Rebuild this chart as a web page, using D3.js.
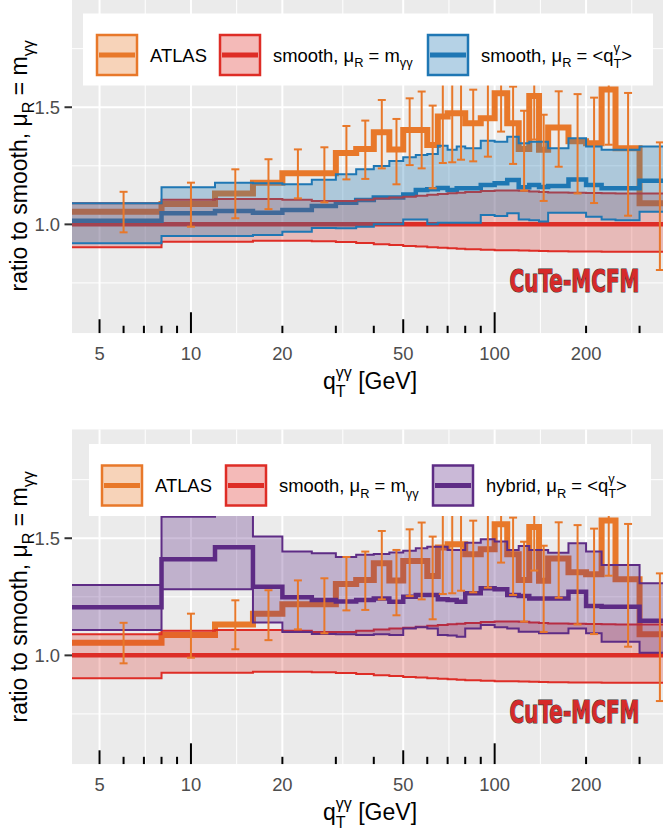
<!DOCTYPE html>
<html>
<head>
<meta charset="utf-8">
<script src="https://cdn.jsdelivr.net/npm/d3@7"></script>
<style>
  body { margin: 0; background: #fff; }
  svg { display: block; font-family: "Liberation Sans", Arial, sans-serif; }
</style>
</head>
<body>
<svg id="chart" width="663" height="832"></svg>
<script>
// q_T bins (GeV), one value per bin
var binEdges = [4, 8, 12, 16, 20, 25, 30, 35, 40, 45, 50, 55, 60, 65, 70, 75, 80, 90,
    100, 110, 120, 130, 140, 150, 175, 200, 225, 250, 300, 400];

// ATLAS / smooth(mu_R = m_yy)
var atlasRatio = [1.054, 1.087, 1.132, 1.178, 1.218, 1.218, 1.305, 1.322, 1.393, 1.320,
    1.403, 1.403, 1.339, 1.460, 1.474, 1.474, 1.432, 1.453, 1.560, 1.432, 1.322, 1.548,
    1.318, 1.413, 1.355, 1.346, 1.576, 1.325, 1.090];
var atlasErrLo = [0.966, 0.990, 1.026, 1.065, 1.111, 1.094, 1.192, 1.194, 1.239, 1.171,
    1.253, 1.239, 1.154, 1.262, 1.265, 1.276, 1.269, 1.289, 1.396, 1.258, 1.144, 1.362,
    1.100, 1.246, 1.132, 1.091, 1.340, 1.037, 0.805];
var atlasErrHi = [1.139, 1.178, 1.235, 1.278, 1.320, 1.329, 1.420, 1.443, 1.531, 1.450,
    1.538, 1.567, 1.507, 1.658, 1.683, 1.672, 1.575, 1.600, 1.724, 1.588, 1.485, 1.734,
    1.468, 1.568, 1.556, 1.541, 1.810, 1.561, 1.350];

// smooth, mu_R = m_yy (reference, band only)
var smoothMid = [1, 1, 1, 1, 1, 1, 1, 1, 1, 1, 1, 1, 1, 1, 1, 1, 1, 1, 1, 1, 1, 1, 1, 1, 1,
    1, 1, 1, 1];
var smoothLo = [0.902, 0.926, 0.926, 0.930, 0.930, 0.928, 0.925, 0.920, 0.915, 0.912,
    0.908, 0.905, 0.902, 0.900, 0.898, 0.896, 0.894, 0.892, 0.890, 0.889, 0.888, 0.887,
    0.886, 0.885, 0.884, 0.884, 0.883, 0.883, 0.883];
var smoothHi = [1.090, 1.105, 1.108, 1.108, 1.105, 1.100, 1.100, 1.105, 1.110, 1.115,
    1.118, 1.122, 1.126, 1.130, 1.133, 1.135, 1.138, 1.142, 1.145, 1.145, 1.143, 1.140,
    1.138, 1.136, 1.135, 1.134, 1.133, 1.132, 1.132];

// smooth, mu_R = <q_T>
var qtMid = [1.015, 1.047, 1.057, 1.050, 1.061, 1.078, 1.092, 1.104, 1.115, 1.115, 1.128,
    1.147, 1.150, 1.155, 1.147, 1.154, 1.154, 1.168, 1.175, 1.189, 1.158, 1.168, 1.160,
    1.164, 1.192, 1.168, 1.154, 1.154, 1.186];
var qtLo = [0.919, 0.950, 0.950, 0.955, 0.968, 0.985, 0.983, 0.990, 1.000, 1.000, 1.021,
    1.021, 1.001, 1.007, 1.007, 1.007, 1.007, 1.040, 1.036, 1.047, 1.021, 1.018, 1.012,
    1.050, 1.050, 1.032, 1.021, 1.018, 1.054];
var qtHi = [1.090, 1.158, 1.178, 1.175, 1.171, 1.190, 1.214, 1.235, 1.249, 1.270, 1.286,
    1.296, 1.300, 1.336, 1.318, 1.332, 1.325, 1.357, 1.353, 1.374, 1.346, 1.353, 1.353,
    1.325, 1.368, 1.332, 1.318, 1.318, 1.332];

// hybrid, mu_R = <q_T>
var hybridMid = [1.205, 1.410, 1.461, 1.293, 1.248, 1.236, 1.230, 1.236, 1.243, 1.229,
    1.250, 1.258, 1.258, 1.240, 1.236, 1.229, 1.265, 1.286, 1.282, 1.258, 1.253, 1.243,
    1.243, 1.243, 1.272, 1.211, 1.208, 1.208, 1.148];
var hybridLo = [1.108, 1.282, 1.282, 1.140, 1.100, 1.091, 1.090, 1.087, 1.090, 1.087,
    1.115, 1.120, 1.115, 1.087, 1.085, 1.080, 1.115, 1.130, 1.120, 1.115, 1.101, 1.101,
    1.094, 1.094, 1.115, 1.094, 1.058, 1.058, 1.011];
var hybridHi = [1.300, 1.592, 1.700, 1.507, 1.443, 1.436, 1.420, 1.430, 1.433, 1.439,
    1.447, 1.457, 1.464, 1.464, 1.450, 1.450, 1.481, 1.496, 1.486, 1.450, 1.467, 1.450,
    1.450, 1.438, 1.479, 1.443, 1.386, 1.386, 1.308];

var xBreaks = [5, 10, 20, 50, 100, 200, 400];
var xLabels = [5, 10, 20, 50, 100, 200];
var yBreaks = [0.5, 1.0, 1.5, 2.0];

var colors = { atlas: '#E8782A', smooth: '#DE2D26', qt: '#1F77B4', hybrid: '#5E2C85' };
var baseSize = 23;

var svg = d3.select('#chart');

var panelLeft = 72, panelRight = 668, panelHeight = 335;
var x = d3.scaleLog().domain([4, 400]).range([70.1, 677.5]);

function binRows(mid, lo, hi) {
    var rows = mid.map(function(v, i) {
        return { x: binEdges[i], mid: v, lo: lo ? lo[i] : v, hi: hi ? hi[i] : v };
    });
    var last = rows[rows.length - 1];
    rows.push({ x: binEdges[mid.length], mid: last.mid, lo: last.lo, hi: last.hi });
    return rows;
}

// text with sub/superscripts, parts: {t, sub} or stacked {sup, sub}
function richText(txt, parts, size) {
    var shift = 0, extra = 0;
    parts.forEach(function(p) {
        if (p.sup !== undefined) {
            var s = txt.append('tspan').attr('font-size', size * 0.7)
                .attr('dx', extra).attr('dy', -0.5 * size - shift).text(p.sup);
            var wSup = s.node().getComputedTextLength();
            var b = txt.append('tspan').attr('font-size', size * 0.7)
                .attr('dx', -wSup).attr('dy', 0.34 * size + 0.5 * size).text(p.sub);
            shift = 0.34 * size;
            extra = Math.max(0, wSup - b.node().getComputedTextLength());
        } else {
            var d = p.sub ? 0.3 * size : 0;
            txt.append('tspan').attr('font-size', p.sub ? size * 0.7 : size)
                .attr('dx', extra).attr('dy', d - shift).text(p.t);
            shift = d;
            extra = 0;
        }
    });
}

function drawPanel(cfg, idx) {
    var top = cfg.bottom - panelHeight;
    var y = d3.scaleLinear().domain([0.535, 1.965]).range([cfg.bottom, top]);

    var clipId = 'clip' + idx;
    svg.append('clipPath').attr('id', clipId)
        .append('rect').attr('x', panelLeft).attr('y', top)
        .attr('width', panelRight - panelLeft).attr('height', panelHeight);

    var g = svg.append('g').attr('clip-path', 'url(#' + clipId + ')');

    g.append('rect').attr('x', panelLeft).attr('y', top)
        .attr('width', panelRight - panelLeft).attr('height', panelHeight)
        .attr('fill', '#EBEBEB');

    // minor grid at geometric / arithmetic midpoints
    var xMinor = d3.pairs(xBreaks).map(function(p) { return Math.sqrt(p[0] * p[1]); });
    var yMinor = d3.pairs(yBreaks).map(function(p) { return (p[0] + p[1]) / 2; });

    g.selectAll('.vminor').data(xMinor).enter().append('line')
        .attr('x1', function(d) { return x(d); }).attr('x2', function(d) { return x(d); })
        .attr('y1', top).attr('y2', cfg.bottom)
        .attr('stroke', '#fff').attr('stroke-width', 1);
    g.selectAll('.hminor').data(yMinor).enter().append('line')
        .attr('x1', panelLeft).attr('x2', panelRight)
        .attr('y1', function(d) { return y(d); }).attr('y2', function(d) { return y(d); })
        .attr('stroke', '#fff').attr('stroke-width', 1);
    g.selectAll('.vmajor').data(xBreaks).enter().append('line')
        .attr('x1', function(d) { return x(d); }).attr('x2', function(d) { return x(d); })
        .attr('y1', top).attr('y2', cfg.bottom)
        .attr('stroke', '#fff').attr('stroke-width', 2);
    g.selectAll('.hmajor').data(yBreaks).enter().append('line')
        .attr('x1', panelLeft).attr('x2', panelRight)
        .attr('y1', function(d) { return y(d); }).attr('y2', function(d) { return y(d); })
        .attr('stroke', '#fff').attr('stroke-width', 2);

    var stepLine = function(key) {
        return d3.line().curve(d3.curveStepAfter)
            .x(function(d) { return x(d.x); })
            .y(function(d) { return y(d[key]); });
    };
    var band = d3.area().curve(d3.curveStepAfter)
        .x(function(d) { return x(d.x); })
        .y0(function(d) { return y(d.lo); })
        .y1(function(d) { return y(d.hi); });

    var atlasRows = binRows(atlasRatio);
    var smoothRows = binRows(smoothMid, smoothLo, smoothHi);
    var modelRows = binRows(cfg.model.mid, cfg.model.lo, cfg.model.hi);

    // central lines first, bands are laid over them
    g.append('path').datum(atlasRows).attr('d', stepLine('mid'))
        .attr('fill', 'none').attr('stroke', colors.atlas).attr('stroke-width', 6);
    g.append('path').datum(smoothRows).attr('d', stepLine('mid'))
        .attr('fill', 'none').attr('stroke', colors.smooth).attr('stroke-width', 4.5);
    g.append('path').datum(modelRows).attr('d', stepLine('mid'))
        .attr('fill', 'none').attr('stroke', cfg.model.color).attr('stroke-width', 4.5);

    [[smoothRows, colors.smooth, 0.26], [modelRows, cfg.model.color, 0.3]].forEach(function(s) {
        g.append('path').datum(s[0]).attr('d', band)
            .attr('fill', s[1]).attr('fill-opacity', s[2]);
        g.append('path').datum(s[0]).attr('d', stepLine('lo'))
            .attr('fill', 'none').attr('stroke', s[1]).attr('stroke-width', 2);
        g.append('path').datum(s[0]).attr('d', stepLine('hi'))
            .attr('fill', 'none').attr('stroke', s[1]).attr('stroke-width', 2);
    });

    // ATLAS error bars at bin centres
    var errs = atlasRatio.map(function(v, i) {
        return { c: (binEdges[i] + binEdges[i + 1]) / 2, lo: atlasErrLo[i], hi: atlasErrHi[i] };
    });
    var eb = g.selectAll('.err').data(errs).enter().append('g')
        .attr('stroke', colors.atlas).attr('stroke-width', 2);
    eb.append('line')
        .attr('x1', function(d) { return x(d.c); }).attr('x2', function(d) { return x(d.c); })
        .attr('y1', function(d) { return y(d.lo); }).attr('y2', function(d) { return y(d.hi); });
    eb.append('line')
        .attr('x1', function(d) { return x(d.c) - 4; }).attr('x2', function(d) { return x(d.c) + 4; })
        .attr('y1', function(d) { return y(d.lo); }).attr('y2', function(d) { return y(d.lo); });
    eb.append('line')
        .attr('x1', function(d) { return x(d.c) - 4; }).attr('x2', function(d) { return x(d.c) + 4; })
        .attr('y1', function(d) { return y(d.hi); }).attr('y2', function(d) { return y(d.hi); });

    // log ticks along the bottom
    var logTicks = [];
    [1, 10, 100].forEach(function(dec) {
        for (var k = 1; k <= 9; k++) logTicks.push({ v: k * dec, k: k });
    });
    g.selectAll('.logtick').data(logTicks).enter().append('line')
        .attr('x1', function(d) { return x(d.v); }).attr('x2', function(d) { return x(d.v); })
        .attr('y1', cfg.bottom)
        .attr('y2', function(d) { return cfg.bottom - (d.k === 1 ? 21 : d.k === 5 ? 14 : 7.5); })
        .attr('stroke', '#000').attr('stroke-width', 2);

    // logo: drawn at natural width, then squeezed to 130px
    var logo = svg.append('text').attr('x', 0).attr('y', 0)
        .attr('font-family', '"Liberation Sans Narrow", "DejaVu Sans Condensed", sans-serif')
        .attr('font-weight', 'bold').attr('font-size', 32)
        .attr('fill', '#D62A2A').attr('stroke', '#3a3a3a').attr('stroke-width', 1.2)
        .attr('paint-order', 'stroke')
        .text('CuTe-MCFM');
    var logoW = logo.node().getComputedTextLength();
    logo.attr('transform', 'translate(' + x(112) + ',' + y(0.712) + ') scale(' +
        (130 / logoW) + ',1)');

    // y axis
    var yShown = yBreaks.filter(function(d) { return y(d) > top && y(d) < cfg.bottom; });
    svg.selectAll('.ytick' + idx).data(yShown).enter().append('line')
        .attr('x1', panelLeft - 7.5).attr('x2', panelLeft)
        .attr('y1', function(d) { return y(d); }).attr('y2', function(d) { return y(d); })
        .attr('stroke', '#333').attr('stroke-width', 2);
    svg.selectAll('.ylab' + idx).data(yShown).enter().append('text')
        .attr('x', 60).attr('y', function(d) { return y(d); }).attr('dy', '0.36em')
        .attr('text-anchor', 'end').attr('font-size', baseSize * 0.8).attr('fill', '#4D4D4D')
        .text(function(d) { return d3.format('.1f')(d); });

    // x axis labels
    svg.selectAll('.xlab' + idx).data(xLabels).enter().append('text')
        .attr('x', function(d) { return x(d); }).attr('y', cfg.bottom + 27)
        .attr('text-anchor', 'middle').attr('font-size', baseSize * 0.8).attr('fill', '#4D4D4D')
        .text(function(d) { return d; });

    var xt = svg.append('text').attr('x', (panelLeft + panelRight) / 2).attr('y', cfg.bottom + 56)
        .attr('text-anchor', 'middle').attr('font-size', baseSize).attr('fill', '#000');
    richText(xt, [{ t: 'q' }, { sup: 'γγ', sub: 'T' }, { t: ' [GeV]' }], baseSize);

    var yt = svg.append('text')
        .attr('transform', 'translate(27,' + (top + cfg.bottom) / 2 + ') rotate(-90)')
        .attr('text-anchor', 'middle').attr('font-size', baseSize).attr('fill', '#000');
    richText(yt, [{ t: 'ratio to smooth, μ' }, { t: 'R', sub: true }, { t: ' = m' },
        { t: 'γγ', sub: true }], baseSize);

    // legend
    var lg = svg.append('g');
    var box = cfg.legend;
    lg.append('rect').attr('x', box.x0).attr('y', box.y0)
        .attr('width', box.x1 - box.x0).attr('height', 72).attr('fill', '#fff');
    var items = [
        { label: [{ t: 'ATLAS' }], color: colors.atlas },
        { label: [{ t: 'smooth, μ' }, { t: 'R', sub: true }, { t: ' = m' }, { t: 'γγ', sub: true }],
            color: colors.smooth },
        { label: [{ t: cfg.model.name + ', μ' }, { t: 'R', sub: true }, { t: ' = <q' },
            { sup: 'γ', sub: 'T' }, { t: '>' }], color: cfg.model.color }
    ];
    items.forEach(function(it, i) {
        var kx = box.keys[i], ky = box.y0 + 21.5;
        lg.append('rect').attr('x', kx).attr('y', ky).attr('width', 40).attr('height', 40)
            .attr('fill', it.color).attr('fill-opacity', 0.33)
            .attr('stroke', it.color).attr('stroke-width', 2.5);
        lg.append('line').attr('x1', kx + 2).attr('x2', kx + 38)
            .attr('y1', ky + 20).attr('y2', ky + 20)
            .attr('stroke', it.color).attr('stroke-width', 5);
        var t = lg.append('text').attr('x', kx + 53).attr('y', box.y0 + 48)
            .attr('font-size', baseSize * 0.8).attr('fill', '#000');
        richText(t, it.label, baseSize * 0.8);
    });
}

drawPanel({
    bottom: 333.3,
    model: { name: 'smooth', mid: qtMid, lo: qtLo, hi: qtHi, color: colors.qt },
    legend: { x0: 83, x1: 653, y0: 13.5, keys: [97, 220, 428] }
}, 0);

drawPanel({
    bottom: 764.3,
    model: { name: 'hybrid', mid: hybridMid, lo: hybridLo, hi: hybridHi, color: colors.hybrid },
    legend: { x0: 89, x1: 651, y0: 444, keys: [102, 226, 433] }
}, 1);
</script>
</body>
</html>
